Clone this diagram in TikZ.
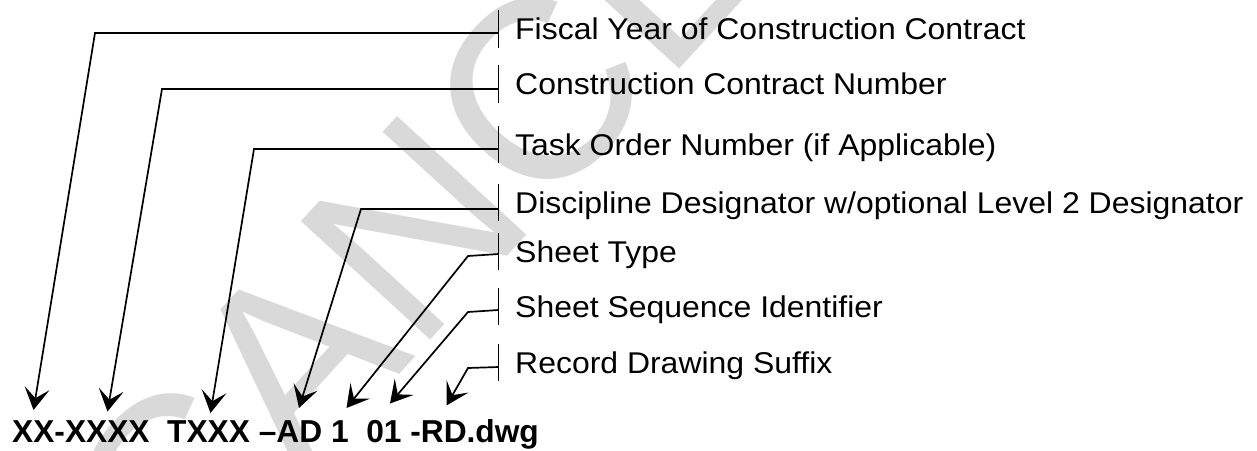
\documentclass[tikz,border=0pt]{standalone}
\usepackage{fontspec}
\setmainfont{Liberation Sans}
\newfontfamily\lblfont[FakeStretch=1.065]{Liberation Sans}
\usetikzlibrary{arrows.meta}
\begin{document}
\begin{tikzpicture}[x=1pt,y=-1pt,
  lbl/.style={anchor=base west, inner sep=0pt, font=\lblfont\fontsize{30}{32}\selectfont},
  code/.style={anchor=base west, inner sep=0pt, font=\bfseries\fontsize{31.7}{34}\selectfont},
  tickbar/.style={line width=1.7pt},
  conn/.style={line width=1.7pt, -{Stealth[length=22pt,width=25pt,inset=10pt]}},
  wm/.style={text=black!15, font=\fontsize{255}{260}\selectfont, anchor=base west, inner sep=0pt, rotate=47.5}]
\useasboundingbox (0,0) rectangle (1257,450);
\begin{scope}
  \clip (0,0) rectangle (1257,450);
  \node[wm] (wmark) at (177,617) {CANCELLED};
\end{scope}

% labels
\node[lbl] (L1) at (515,39.5) {Fiscal Year of Construction Contract};
\node[lbl] (L2) at (515,94.5) {Construction Contract Number};
\node[lbl] (L3) at (515,155) {Task Order Number (if Applicable)};
\node[lbl] (L4) at (515,213) {Discipline Designator w/optional Level 2 Designator};
\node[lbl] (L5) at (515,262) {Sheet Type};
\node[lbl] (L6) at (515,317) {Sheet Sequence Identifier};
\node[lbl] (L7) at (515,373) {Record Drawing Suffix};

% code string
\node[code] (code) at (12,442) {XX-XXXX\ \ TXXX –AD 1\ \ 01 -RD.dwg};

% ticks
\draw[tickbar] (498.5,10) -- (498.5,48);
\draw[tickbar] (498.5,65) -- (498.5,103);
\draw[tickbar] (498.5,126) -- (498.5,163);
\draw[tickbar] (498.5,184) -- (498.5,221);
\draw[tickbar] (498.5,232.5) -- (498.5,269.5);
\draw[tickbar] (498.5,288) -- (498.5,325);
\draw[tickbar] (498.5,344) -- (498.5,381);

% join points, elbows, tips
\coordinate (j1) at (498.5,33);   \coordinate (e1) at (95,33);   \coordinate (t1) at (33.5,410);
\coordinate (j2) at (498.5,89);   \coordinate (e2) at (162,89);  \coordinate (t2) at (107.5,411.5);
\coordinate (j3) at (498.5,149);  \coordinate (e3) at (254,149); \coordinate (t3) at (210.5,413);
\coordinate (j4) at (498.5,209);  \coordinate (e4) at (361,209); \coordinate (t4) at (299,408);
\coordinate (j5) at (498.5,254);  \coordinate (e5) at (468,256); \coordinate (t5) at (346.5,408);
\coordinate (j6) at (498.5,310);  \coordinate (e6) at (468,312); \coordinate (t6) at (390,403.5);
\coordinate (j7) at (498.5,367);  \coordinate (e7) at (468,368); \coordinate (t7) at (446.5,405.5);

\draw[conn] (j1) -- (e1) -- (t1);
\draw[conn] (j2) -- (e2) -- (t2);
\draw[conn] (j3) -- (e3) -- (t3);
\draw[conn] (j4) -- (e4) -- (t4);
\draw[conn] (j5) -- (e5) -- (t5);
\draw[conn] (j6) -- (e6) -- (t6);
\draw[conn] (j7) -- (e7) -- (t7);
\end{tikzpicture}
\end{document}
